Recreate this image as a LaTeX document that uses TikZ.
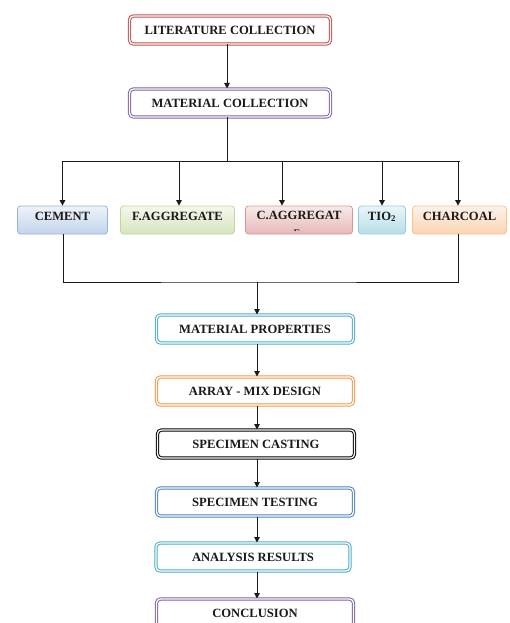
\documentclass[tikz,border=0pt]{standalone}
\usepackage{fontspec}
\setmainfont{Liberation Serif}
\usetikzlibrary{arrows.meta,calc,positioning}
\definecolor{FlowRed}{HTML}{C0504D}
\definecolor{FlowPurple}{HTML}{8064A2}
\definecolor{FlowCyan}{HTML}{4BACC6}
\definecolor{FlowOrange}{HTML}{F79646}
\definecolor{FlowBlue}{HTML}{4F81BD}
\definecolor{FlowInk}{HTML}{1A1A1A}
\definecolor{CementTop}{HTML}{EEF3FA}
\definecolor{CementBase}{HTML}{C3D4EA}
\definecolor{CementEdge}{HTML}{95B3D7}
\definecolor{FineTop}{HTML}{F4F8EC}
\definecolor{FineBase}{HTML}{D7E4BD}
\definecolor{FineEdge}{HTML}{C3D69B}
\definecolor{CoarseTop}{HTML}{F8EAEA}
\definecolor{CoarseBase}{HTML}{E6B9B8}
\definecolor{CoarseEdge}{HTML}{D99694}
\definecolor{TioTop}{HTML}{EAF5F8}
\definecolor{TioBase}{HTML}{B7DEE8}
\definecolor{TioEdge}{HTML}{93CDDD}
\definecolor{CharTop}{HTML}{FEF2E8}
\definecolor{CharBase}{HTML}{FBD4B4}
\definecolor{CharEdge}{HTML}{FAC090}
\tikzset{
  every node/.style={font=\fontsize{12.6}{14}\selectfont\bfseries, text=FlowInk},
  stage/.style={draw=#1, double=white, line width=1pt, double distance=1.3pt,
                rounded corners=4pt, fill=white, minimum width=197pt, minimum height=28pt, inner sep=0pt},
  material/.style={draw=#1Edge, line width=0.8pt, rounded corners=3pt,
                   top color=#1Top, bottom color=#1Base,
                   minimum height=28pt, inner sep=0pt, text height=9pt, text depth=9pt},
  link/.style={draw=FlowInk, line width=1pt},
  flow/.style={-{Triangle[length=5.5pt,width=5.5pt]}, draw=FlowInk, line width=1pt},
}
\begin{document}
\begin{tikzpicture}[x=1pt,y=-1pt]
  \useasboundingbox (0,0) rectangle (509,623);

  % Collection stages
  \node[stage=FlowRed, minimum width=201pt] (lit) at (230,30) {LITERATURE COLLECTION};
  \node[stage=FlowPurple, minimum width=201pt] (matcol) at (230,103) {MATERIAL COLLECTION};
  \draw[flow] (lit.south -| 227,0) -- (matcol.north -| 227,0);

  % Raw materials
  \node[material=Cement, minimum width=90pt] (cement) at (62.5,220) {CEMENT};
  \node[material=Fine, minimum width=114pt] (fagg) at (177.5,220) {F.AGGREGATE};
  \node[material=Coarse, minimum width=107pt] (cagg) at (299,220) {};
  \node[material=Tio, minimum width=47pt] (tio) at (382,220) {TIO\textsubscript{2}};
  \node[material=Char, minimum width=94pt] (charcoal) at (459.5,220) {CHARCOAL};
  \node (caggtext) at (299,215) {C.AGGREGAT};
  \begin{scope}
    \clip (250,225) rectangle (350,230);
    \node[font=\fontsize{10}{11}\selectfont\bfseries] (caggwrap) at (297,233) {E};
  \end{scope}

  % Splitting bar
  \coordinate (split) at (227,161);
  \draw[link] (matcol.south -| split) -- (split);
  \draw[link] (cement.north |- split) -- (charcoal.north |- split);
  \draw[flow] (cement.north |- split) -- (cement.north);
  \draw[flow] (179,161) -- (fagg.north -| 179,0);
  \draw[flow] (282,161) -- (cagg.north -| 282,0);
  \draw[flow] (tio.north |- split) -- (tio.north);
  \draw[flow] (458,161) -- (charcoal.north -| 458,0);

  % Joining bar
  \coordinate (join) at (257,282);
  \draw[link] (cement.south -| 63,0) |- (join) -| (charcoal.south -| 458,0);

  % Testing stages
  \node[stage=FlowCyan] (props) at (255,329) {MATERIAL PROPERTIES};
  \node[stage=FlowOrange] (mix) at (255,391) {ARRAY - MIX DESIGN};
  \node[stage=black] (cast) at (256,444) {SPECIMEN CASTING};
  \node[stage=FlowBlue] (test) at (255,502) {SPECIMEN TESTING};
  \node[stage=FlowCyan, minimum width=194pt] (analysis) at (253,557) {ANALYSIS RESULTS};
  \node[stage=FlowPurple] (conclusion) at (255,613) {CONCLUSION};

  \draw[flow] (join) -- (props.north -| join);
  \draw[flow] (props.south -| join) -- (mix.north -| join);
  \draw[flow] (mix.south -| join) -- (cast.north -| join);
  \draw[flow] (cast.south -| join) -- (test.north -| join);
  \draw[flow] (test.south -| join) -- (analysis.north -| join);
  \draw[flow] (analysis.south -| join) -- (conclusion.north -| join);
\end{tikzpicture}
\end{document}
